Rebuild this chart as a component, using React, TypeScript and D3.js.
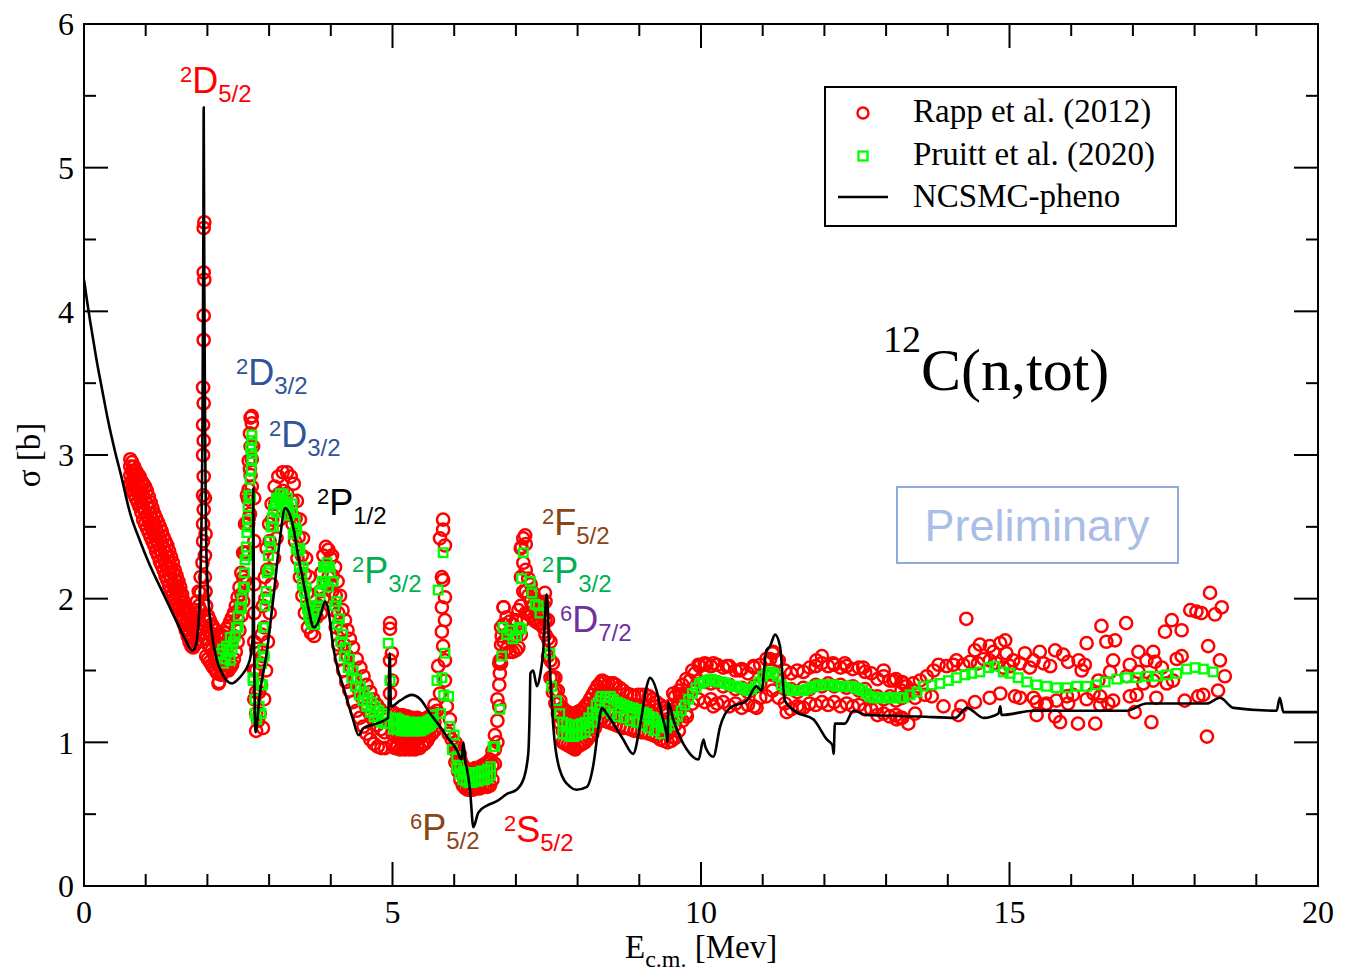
import * as d3 from "d3";

const W = 1345;
const H = 980;
const M = { left: 84, right: 1318, top: 24, bottom: 886 };

// Rapp et al. (2012), dense parts read as rows: [E, sigma, sigma, ...]
const rappRowsLow = [
  [0.75, 2.8, 2.86, 2.92, 2.97], [0.78, 2.76, 2.82, 2.89, 2.95], [0.81, 2.73, 2.79, 2.86, 2.92],
  [0.84, 2.7, 2.76, 2.83, 2.89], [0.87, 2.67, 2.74, 2.8, 2.87], [0.9, 2.64, 2.71, 2.78, 2.85],
  [0.93, 2.6, 2.67, 2.75, 2.82], [0.96, 2.55, 2.63, 2.72, 2.8], [0.99, 2.52, 2.61, 2.69, 2.78],
  [1.02, 2.49, 2.58, 2.66, 2.75], [1.05, 2.46, 2.54, 2.63, 2.71], [1.08, 2.43, 2.51, 2.59, 2.67],
  [1.11, 2.4, 2.48, 2.55, 2.63], [1.14, 2.37, 2.44, 2.52, 2.59], [1.17, 2.33, 2.41, 2.48, 2.56],
  [1.2, 2.3, 2.38, 2.45, 2.53], [1.23, 2.26, 2.34, 2.42, 2.5], [1.26, 2.23, 2.31, 2.39, 2.47],
  [1.29, 2.2, 2.28, 2.35, 2.43], [1.32, 2.16, 2.24, 2.32, 2.4], [1.35, 2.13, 2.21, 2.29, 2.37],
  [1.38, 2.09, 2.17, 2.25, 2.33], [1.41, 2.06, 2.14, 2.21, 2.29], [1.44, 2.03, 2.1, 2.18, 2.25],
  [1.47, 2.0, 2.07, 2.13, 2.2], [1.5, 1.96, 2.03, 2.09, 2.16], [1.53, 1.93, 2.0, 2.06, 2.12],
  [1.56, 1.89, 1.95, 2.02, 2.08], [1.59, 1.86, 1.92, 1.97, 2.03], [1.62, 1.82, 1.87, 1.93, 1.98],
  [1.65, 1.78, 1.83, 1.89, 1.94], [1.68, 1.74, 1.79, 1.85, 1.9], [1.71, 1.7, 1.76, 1.81, 1.87],
  [1.74, 1.67, 1.73, 1.8, 1.86], [1.77, 1.66, 1.73, 1.81, 1.88], [1.8, 1.68, 1.76, 1.84, 1.92],
  [1.83, 1.7, 1.79, 1.89, 1.98], [1.86, 1.75, 1.85, 1.95, 2.05], [1.89, 1.8, 1.92, 2.04, 2.15],
  [1.98, 1.6, 1.72, 1.84, 1.95], [2.01, 1.58, 1.68, 1.78, 1.88], [2.04, 1.56, 1.66, 1.76, 1.85],
  [2.07, 1.54, 1.64, 1.74, 1.82], [2.1, 1.52, 1.62, 1.72, 1.8], [2.13, 1.5, 1.6, 1.7, 1.78],
  [2.16, 1.48, 1.58, 1.68, 1.75], [2.19, 1.42, 1.55, 1.65, 1.74],
  [2.22, 1.47, 1.59, 1.72], [2.25, 1.48, 1.61, 1.74], [2.28, 1.5, 1.63, 1.76], [2.31, 1.51, 1.65, 1.79],
  [2.34, 1.5, 1.67, 1.81], [2.37, 1.52, 1.69, 1.84], [2.4, 1.54, 1.71, 1.87], [2.43, 1.58, 1.74, 1.9],
  [2.46, 1.63, 1.79, 1.95], [2.49, 1.7, 1.86, 2.01], [2.52, 1.78, 1.93, 2.08], [2.55, 1.88, 2.03, 2.18],
  [2.58, 1.98, 2.15, 2.32], [2.61, 2.12, 2.32, 2.52], [2.64, 2.32, 2.52, 2.72], [2.67, 2.56, 2.76, 2.96],
  [2.7, 2.86, 3.06, 3.26],
  [2.76, 1.3, 1.5, 1.7, 1.9, 2.1, 2.4, 2.7], [2.79, 1.08, 1.2, 1.35, 1.5, 1.65],
];

const rappRowsMid = [
  [5.0, 0.98, 1.06, 1.14, 1.21], [5.04, 0.96, 1.04, 1.12, 1.2], [5.08, 0.97, 1.05, 1.13, 1.19],
  [5.12, 0.95, 1.03, 1.11, 1.18], [5.16, 0.96, 1.04, 1.12, 1.19], [5.2, 0.95, 1.03, 1.1, 1.17],
  [5.24, 0.96, 1.04, 1.11, 1.18], [5.28, 0.95, 1.03, 1.1, 1.17], [5.32, 0.96, 1.04, 1.11, 1.17],
  [5.36, 0.95, 1.03, 1.1, 1.16], [5.4, 0.97, 1.04, 1.11, 1.17], [5.44, 0.96, 1.03, 1.1, 1.15],
  [5.48, 0.98, 1.05, 1.11, 1.16], [5.52, 0.99, 1.06, 1.12, 1.16], [5.56, 1.01, 1.07, 1.13, 1.17],
  [5.6, 1.04, 1.09, 1.14, 1.18], [5.64, 1.06, 1.11, 1.16, 1.2], [5.68, 1.08, 1.14, 1.2, 1.26],
  [6.02, 0.86, 0.94, 1.0], [6.06, 0.8, 0.87, 0.94], [6.1, 0.74, 0.81, 0.88], [6.14, 0.7, 0.77, 0.84],
  [6.18, 0.68, 0.75, 0.82], [6.22, 0.67, 0.74, 0.81], [6.26, 0.67, 0.74, 0.8], [6.3, 0.67, 0.74, 0.81],
  [6.34, 0.68, 0.75, 0.82], [6.38, 0.68, 0.75, 0.82], [6.42, 0.68, 0.75, 0.83], [6.46, 0.69, 0.76, 0.84],
  [6.5, 0.69, 0.77, 0.85], [6.54, 0.69, 0.77, 0.86], [6.58, 0.7, 0.79, 0.88], [6.62, 0.74, 0.84, 0.94],
  [6.66, 0.85, 0.95, 1.05], [6.7, 1.0, 1.15, 1.3], [6.73, 1.25, 1.4, 1.55], [6.76, 1.55, 1.68, 1.8],
  [6.8, 1.7, 1.82, 1.94], [6.85, 1.65, 1.75, 1.87], [6.9, 1.63, 1.73, 1.84], [6.95, 1.63, 1.72, 1.82],
  [7.0, 1.64, 1.74, 1.85], [7.04, 1.66, 1.78, 1.92], [7.08, 1.75, 1.95, 2.15, 2.35], [7.12, 1.85, 2.05, 2.25, 2.42],
  [7.16, 1.9, 2.05, 2.2, 2.38], [7.2, 1.9, 2.02, 2.14], [7.24, 1.88, 1.98, 2.1], [7.28, 1.86, 1.95, 2.04],
  [7.32, 1.84, 1.92, 2.0], [7.36, 1.83, 1.9, 1.98], [7.4, 1.82, 1.9, 1.97], [7.44, 1.8, 1.88, 1.96],
  [7.48, 1.75, 1.85, 1.98], [7.52, 1.6, 1.72, 1.85], [7.56, 1.45, 1.57, 1.7], [7.6, 1.35, 1.45, 1.55],
  [7.64, 1.27, 1.36, 1.45], [7.68, 1.2, 1.28, 1.36], [7.72, 1.13, 1.21, 1.29],
  [7.76, 1.0, 1.08, 1.16, 1.24], [7.8, 0.99, 1.07, 1.15, 1.22], [7.84, 0.98, 1.06, 1.14, 1.21],
  [7.88, 0.97, 1.05, 1.13, 1.2], [7.92, 0.96, 1.04, 1.12, 1.2], [7.96, 0.96, 1.04, 1.12, 1.2],
  [8.0, 0.97, 1.05, 1.13, 1.21], [8.04, 0.98, 1.06, 1.14, 1.22], [8.08, 0.99, 1.07, 1.15, 1.23],
  [8.12, 1.0, 1.08, 1.16, 1.25], [8.16, 1.02, 1.1, 1.18, 1.27], [8.2, 1.04, 1.12, 1.21, 1.3],
  [8.24, 1.06, 1.15, 1.24, 1.33], [8.28, 1.1, 1.19, 1.28, 1.36], [8.32, 1.14, 1.23, 1.32, 1.39],
  [8.36, 1.16, 1.25, 1.34, 1.41], [8.4, 1.17, 1.27, 1.36, 1.43],
  [8.44, 1.15, 1.24, 1.33, 1.42], [8.5, 1.14, 1.23, 1.32, 1.41], [8.56, 1.13, 1.22, 1.31, 1.41],
  [8.62, 1.12, 1.21, 1.3, 1.4], [8.68, 1.11, 1.2, 1.29, 1.38], [8.74, 1.1, 1.19, 1.28, 1.36],
  [8.8, 1.1, 1.18, 1.26, 1.34], [8.86, 1.09, 1.17, 1.25, 1.33], [8.92, 1.08, 1.16, 1.24, 1.32],
  [8.98, 1.08, 1.16, 1.24, 1.33], [9.04, 1.07, 1.15, 1.23, 1.33], [9.1, 1.07, 1.14, 1.22, 1.33],
  [9.16, 1.06, 1.13, 1.21, 1.32], [9.22, 1.05, 1.12, 1.2, 1.3], [9.28, 1.04, 1.11, 1.18, 1.28],
  [9.34, 1.02, 1.09, 1.16, 1.26], [9.4, 1.01, 1.07, 1.14, 1.24], [9.46, 1.0, 1.06, 1.13, 1.22],
  [9.52, 1.01, 1.08, 1.15, 1.26], [9.58, 1.03, 1.12, 1.21, 1.32], [9.64, 1.08, 1.18, 1.28, 1.36],
  [9.7, 1.15, 1.25, 1.34, 1.4],
];

const rappRowsHigh = [
  [9.76, 1.2, 1.32, 1.44], [9.86, 1.27, 1.37, 1.5], [9.96, 1.3, 1.43, 1.54], [10.06, 1.28, 1.42, 1.55],
  [10.16, 1.3, 1.41, 1.53], [10.26, 1.27, 1.42, 1.54], [10.36, 1.28, 1.39, 1.52], [10.46, 1.25, 1.4, 1.53],
  [10.56, 1.27, 1.37, 1.5], [10.66, 1.24, 1.38, 1.51], [10.76, 1.26, 1.35, 1.48], [10.86, 1.25, 1.39, 1.52],
  [10.96, 1.31, 1.41, 1.54], [11.06, 1.32, 1.47, 1.58], [11.16, 1.36, 1.47, 1.62], [11.26, 1.31, 1.45, 1.57],
  [11.36, 1.27, 1.37, 1.5], [11.46, 1.23, 1.37, 1.48], [11.56, 1.25, 1.35, 1.5], [11.66, 1.24, 1.38, 1.49],
  [11.76, 1.27, 1.37, 1.52], [11.86, 1.26, 1.4, 1.53], [11.96, 1.28, 1.39, 1.55], [12.06, 1.26, 1.41, 1.53],
  [12.16, 1.28, 1.39, 1.54], [12.26, 1.25, 1.4, 1.52], [12.36, 1.27, 1.38, 1.53], [12.46, 1.25, 1.39, 1.51],
  [12.56, 1.26, 1.36, 1.52], [12.66, 1.23, 1.37, 1.49], [12.76, 1.23, 1.32, 1.48], [12.86, 1.19, 1.32, 1.44],
  [12.96, 1.2, 1.3, 1.46], [13.06, 1.18, 1.32, 1.43], [13.16, 1.19, 1.29, 1.44], [13.26, 1.17, 1.31, 1.42],
];

// Rapp et al. (2012), single points [E, sigma]
const rappPts = [
  [1.92, 2.25], [1.93, 2.4], [1.93, 2.52], [1.94, 2.62], [1.93, 2.72], [1.94, 2.85], [1.93, 3.0], [1.94, 3.1],
  [1.93, 3.21], [1.94, 3.36], [1.93, 3.47], [1.94, 3.8], [1.94, 3.97], [1.95, 4.22], [1.94, 4.27], [1.94, 4.58],
  [1.95, 4.62], [1.96, 2.3], [1.96, 2.15], [1.97, 2.05], [1.96, 2.7], [1.97, 2.45], [2.18, 1.41],
  [2.66, 2.52], [2.69, 2.59], [2.66, 2.69], [2.72, 2.78], [2.69, 2.9], [2.72, 2.97], [2.74, 3.06], [2.69, 3.15],
  [2.72, 3.22], [2.72, 3.27],
  // rising flank and broad peak
  [2.82, 1.15], [2.84, 1.35], [2.86, 1.55], [2.88, 1.75], [2.9, 1.95], [2.93, 2.15], [2.96, 2.35], [3.0, 2.52],
  [3.04, 2.66], [3.09, 2.78], [3.15, 2.85], [3.22, 2.88], [3.29, 2.88], [3.35, 2.85],
  [2.9, 1.1], [2.92, 1.3], [2.95, 1.5], [2.98, 1.7], [3.01, 1.9], [3.04, 2.1], [3.08, 2.28], [3.12, 2.42],
  [3.17, 2.55], [3.23, 2.62], [3.3, 2.62], [3.36, 2.58],
  [2.85, 1.2], [2.87, 1.4], [2.89, 1.6], [2.92, 1.8], [2.94, 2.0], [2.97, 2.2], [3.01, 2.4], [3.05, 2.55],
  [3.1, 2.66], [3.16, 2.73], [3.22, 2.75], [3.29, 2.73],
  [3.4, 2.8], [3.45, 2.68], [3.5, 2.55], [3.55, 2.42], [3.6, 2.28], [3.65, 2.15], [3.7, 2.02], [3.75, 1.92],
  [3.8, 1.95], [3.38, 2.52], [3.42, 2.4], [3.46, 2.28], [3.5, 2.15], [3.54, 2.02], [3.58, 1.9], [3.63, 1.8],
  [3.68, 1.76], [3.73, 1.74], [3.38, 2.68], [3.43, 2.56], [3.48, 2.43], [3.53, 2.3], [3.58, 2.17], [3.62, 2.04],
  [3.67, 1.93], [3.72, 1.86], [3.77, 1.87],
  [3.82, 2.05], [3.85, 2.18], [3.88, 2.3], [3.92, 2.36], [3.96, 2.34], [4.0, 2.28], [3.84, 1.9], [3.88, 2.0],
  [3.92, 2.1], [3.96, 2.15], [4.0, 2.1],
  // fall towards 5 MeV
  [4.02, 2.3], [4.07, 2.22], [4.11, 2.12], [4.15, 2.02], [4.19, 1.92], [4.23, 1.85], [4.27, 1.78], [4.31, 1.72],
  [4.36, 1.66], [4.42, 1.58], [4.48, 1.52], [4.53, 1.46], [4.58, 1.4], [4.64, 1.35], [4.69, 1.3], [4.75, 1.26],
  [4.8, 1.23], [4.86, 1.2], [4.91, 1.18],
  [4.02, 2.05], [4.05, 1.92], [4.08, 1.8], [4.12, 1.68], [4.16, 1.58], [4.2, 1.5], [4.25, 1.42], [4.3, 1.36],
  [4.36, 1.28], [4.42, 1.22], [4.47, 1.17], [4.53, 1.11], [4.58, 1.06], [4.64, 1.02], [4.7, 0.99], [4.76, 0.97],
  [4.82, 0.96], [4.88, 0.96],
  [4.03, 2.16], [4.08, 2.02], [4.12, 1.9], [4.17, 1.78], [4.22, 1.68], [4.27, 1.6], [4.33, 1.52], [4.39, 1.44],
  [4.45, 1.37], [4.51, 1.31], [4.57, 1.25], [4.63, 1.2], [4.69, 1.16], [4.75, 1.12], [4.81, 1.09], [4.87, 1.07],
  [4.96, 1.83], [4.96, 1.79], [4.99, 1.62], [4.96, 1.57], [4.99, 1.43], [4.96, 1.34],
  // resonance near 5.8 MeV
  [5.82, 2.55], [5.82, 2.48], [5.77, 2.42], [5.85, 2.37], [5.8, 2.15], [5.82, 2.13], [5.85, 2.01], [5.8, 1.94],
  [5.85, 1.85], [5.8, 1.77], [5.82, 1.67], [5.85, 1.57], [5.74, 1.53], [5.85, 1.43], [5.77, 1.34], [5.72, 1.22],
  [5.88, 1.25], [5.93, 1.16], [5.91, 1.06], [5.96, 1.02], [6.01, 0.97], [6.09, 0.92], [6.12, 0.85],
  [6.74, 1.48], [6.74, 1.57], [6.77, 1.74], [6.8, 1.94], [7.09, 2.36], [7.15, 2.44], [7.47, 2.04],
  [8.2, 1.06], [7.96, 0.95], [7.98, 1.06], [9.55, 1.04], [9.61, 1.25], [9.55, 1.34], [8.58, 1.41], [8.47, 1.39],
  // 9.6 - 13.5 MeV
  [9.66, 1.33], [9.82, 1.43], [9.9, 1.48], [9.98, 1.53], [10.09, 1.54], [10.2, 1.55], [10.42, 1.53], [10.63, 1.5],
  [10.85, 1.53], [11.12, 1.58], [11.17, 1.63], [11.23, 1.57], [11.87, 1.57], [11.96, 1.6], [12.14, 1.55],
  [12.33, 1.55], [12.63, 1.52], [12.96, 1.5], [13.12, 1.43], [13.28, 1.41], [13.44, 1.41], [10.2, 1.25],
  [10.9, 1.24], [11.39, 1.21], [11.6, 1.24], [12.85, 1.24], [13.17, 1.16], [13.36, 1.13], [13.47, 1.2],
  [9.77, 1.18], [13.44, 1.36], [13.23, 1.17],
  // scattered part above 13.5 MeV
  [14.3, 1.86], [18.25, 2.04], [18.44, 1.94], [17.93, 1.92], [18.03, 1.91], [18.11, 1.9], [18.33, 1.89], [17.63, 1.85],
  [17.52, 1.77], [17.79, 1.78], [16.49, 1.81], [16.89, 1.83], [16.57, 1.7], [16.71, 1.71], [16.25, 1.69], [14.93, 1.71],
  [14.85, 1.69], [14.52, 1.68], [14.44, 1.64], [14.68, 1.67], [14.74, 1.63], [14.95, 1.62], [15.25, 1.62], [15.49, 1.63],
  [15.74, 1.64], [15.87, 1.61], [16.12, 1.57], [16.22, 1.54], [16.17, 1.5], [15.95, 1.56], [15.55, 1.55], [15.66, 1.53],
  [15.39, 1.57], [15.33, 1.52], [15.17, 1.55], [15.06, 1.57], [15.01, 1.53], [14.9, 1.52], [14.79, 1.55], [14.68, 1.57],
  [14.58, 1.58], [14.49, 1.55], [14.36, 1.56], [14.25, 1.54], [14.14, 1.57], [14.09, 1.54], [13.98, 1.53], [13.85, 1.54],
  [13.77, 1.5], [13.66, 1.46], [13.55, 1.43], [13.33, 1.39], [13.25, 1.36], [13.36, 1.34], [13.47, 1.31],
  [13.63, 1.33], [13.74, 1.32], [13.93, 1.25], [14.22, 1.25], [14.17, 1.19], [14.44, 1.28], [14.68, 1.31], [14.85, 1.34],
  [15.09, 1.32], [15.17, 1.31], [15.39, 1.31], [15.44, 1.28], [15.6, 1.27], [15.76, 1.29], [15.93, 1.32], [15.95, 1.27],
  [16.03, 1.33], [16.36, 1.34], [16.47, 1.26], [16.6, 1.27], [16.68, 1.29], [16.95, 1.32], [17.06, 1.33], [17.38, 1.31],
  [17.17, 1.41], [17.33, 1.43], [17.55, 1.41], [17.65, 1.43], [17.79, 1.6], [17.71, 1.58], [18.22, 1.67], [18.41, 1.57],
  [18.49, 1.46], [18.38, 1.36], [18.14, 1.33], [18.06, 1.32], [17.84, 1.29], [18.2, 1.04], [17.3, 1.14], [17.03, 1.21],
  [16.39, 1.13], [16.11, 1.13], [15.82, 1.14], [15.74, 1.18], [15.44, 1.19], [15.58, 1.26],
  [16.95, 1.54], [17.09, 1.63], [17.33, 1.63], [17.22, 1.57], [17.36, 1.56], [17.47, 1.52], [17.09, 1.49], [16.9, 1.46],
  [16.68, 1.57], [16.63, 1.49], [16.44, 1.43], [16.47, 1.32], [16.25, 1.3],
];

// Pruitt et al. (2020), rows [E, sigma, ...]
const pruittRows = [
  [5.02, 1.09, 1.16], [5.06, 1.1, 1.17], [5.1, 1.09, 1.16], [5.14, 1.08, 1.15], [5.18, 1.08, 1.15],
  [5.22, 1.08, 1.14], [5.26, 1.08, 1.14], [5.3, 1.08, 1.14], [5.34, 1.08, 1.14], [5.38, 1.08, 1.14],
  [5.42, 1.08, 1.13], [5.46, 1.08, 1.13], [5.5, 1.09, 1.14], [5.54, 1.1, 1.14], [5.58, 1.11, 1.15],
  [5.62, 1.12, 1.16], [5.66, 1.14, 1.19],
  [6.04, 0.82, 0.9], [6.09, 0.78, 0.84], [6.14, 0.74, 0.8], [6.19, 0.73, 0.79], [6.24, 0.72, 0.78],
  [6.29, 0.72, 0.78], [6.34, 0.73, 0.79], [6.39, 0.73, 0.79], [6.44, 0.74, 0.8], [6.49, 0.74, 0.8],
  [6.54, 0.75, 0.81], [6.59, 0.77, 0.83],
  [7.76, 1.06, 1.14], [7.82, 1.05, 1.13], [7.88, 1.04, 1.12], [7.94, 1.04, 1.12], [8.0, 1.05, 1.12],
  [8.06, 1.06, 1.13], [8.12, 1.07, 1.14], [8.18, 1.1, 1.17], [8.24, 1.14, 1.21], [8.3, 1.19, 1.26],
  [8.36, 1.23, 1.29],
];

const pruittPts = [
  [2.2, 1.62], [2.26, 1.55], [2.31, 1.67], [2.37, 1.57], [2.37, 1.73], [2.42, 1.7], [2.47, 1.8], [2.5, 1.88],
  [2.53, 1.94], [2.56, 2.0], [2.58, 2.08], [2.6, 2.18], [2.61, 2.27], [2.63, 2.36], [2.64, 2.46], [2.65, 2.55],
  [2.66, 2.64], [2.67, 2.72], [2.69, 2.83], [2.72, 2.97], [2.72, 3.01], [2.72, 3.1], [2.72, 3.14],
  [2.25, 1.65], [2.3, 1.58], [2.35, 1.64], [2.4, 1.65], [2.45, 1.74], [2.5, 1.8], [2.55, 1.93], [2.6, 2.08],
  [2.64, 2.3], [2.67, 2.5], [2.7, 2.7], [2.71, 2.9], [2.7, 3.05],
  [2.74, 1.45], [2.74, 1.43], [2.77, 1.2], [2.8, 1.16], [2.77, 1.3],
  [2.84, 1.25], [2.88, 1.55], [2.91, 1.8], [2.95, 2.05], [2.99, 2.3], [3.03, 2.5], [3.07, 2.62], [3.12, 2.7],
  [3.18, 2.73], [3.23, 2.73], [3.3, 2.7], [3.37, 2.66], [3.42, 2.55], [3.45, 2.48], [3.5, 2.35], [3.55, 2.22],
  [3.6, 2.08], [3.66, 1.95], [3.72, 1.9], [3.77, 1.92], [3.82, 2.05], [3.88, 2.22], [3.93, 2.22], [3.99, 2.18],
  [2.86, 1.4], [2.9, 1.65], [2.93, 1.95], [2.97, 2.18], [3.01, 2.4], [3.05, 2.56], [3.1, 2.66], [3.15, 2.7],
  [3.21, 2.68], [3.27, 2.65], [3.33, 2.58], [3.39, 2.45], [3.44, 2.35], [3.49, 2.22], [3.54, 2.1], [3.59, 1.98],
  [3.64, 1.88], [3.69, 1.82], [3.74, 1.82], [3.8, 1.95], [3.86, 2.1], [3.91, 2.12], [3.96, 2.08],
  [2.87, 1.2], [2.89, 1.4], [2.92, 1.6], [2.94, 1.8], [2.97, 2.0], [3.0, 2.2], [3.03, 2.36], [3.07, 2.5],
  [3.12, 2.6], [3.18, 2.66], [3.25, 2.66], [3.31, 2.63], [3.38, 2.6], [3.43, 2.47], [3.48, 2.33], [3.53, 2.18],
  [3.57, 2.05], [3.62, 1.93], [3.67, 1.85], [3.83, 2.0], [3.86, 2.12], [3.9, 2.22], [3.94, 2.25], [3.98, 2.22],
  [4.04, 2.12], [4.09, 1.98], [4.14, 1.86], [4.19, 1.75], [4.24, 1.66], [4.3, 1.58], [4.36, 1.5], [4.42, 1.44],
  [4.48, 1.39], [4.54, 1.35], [4.6, 1.31], [4.66, 1.28], [4.72, 1.25], [4.78, 1.22], [4.84, 1.2], [4.9, 1.18],
  [4.06, 1.95], [4.11, 1.82], [4.16, 1.7], [4.22, 1.6], [4.28, 1.52], [4.34, 1.45], [4.4, 1.39], [4.46, 1.33],
  [4.52, 1.29], [4.58, 1.25], [4.64, 1.21], [4.7, 1.18], [4.76, 1.15], [4.82, 1.14], [4.88, 1.13],
  [4.93, 1.69], [4.96, 1.43],
  [5.72, 1.43], [5.74, 2.06], [5.82, 2.32], [5.85, 1.62], [5.91, 1.32], [5.93, 1.11], [5.8, 1.45], [5.83, 1.33],
  [5.78, 1.2], [6.0, 1.05], [5.97, 0.95],
  [6.63, 0.97], [6.66, 0.97], [6.74, 1.23], [6.77, 1.6], [6.79, 1.8], [6.85, 1.75], [6.9, 1.78], [6.95, 1.72],
  [7.01, 1.74], [7.05, 1.8], [7.09, 1.79], [7.09, 2.14], [7.12, 2.32], [7.23, 2.12], [7.26, 2.04], [7.31, 1.96],
  [7.39, 1.9], [7.36, 1.95], [7.55, 1.62], [7.58, 1.39], [7.66, 1.29], [7.71, 1.2],
  [8.39, 1.32], [8.45, 1.31], [8.53, 1.32], [8.58, 1.3], [8.64, 1.28], [8.69, 1.27], [8.75, 1.26], [8.8, 1.25],
  [8.85, 1.24], [8.9, 1.24], [8.96, 1.23], [9.01, 1.21], [9.07, 1.21], [9.12, 1.2], [9.17, 1.18], [9.23, 1.17],
  [9.28, 1.15], [9.31, 1.14], [9.36, 1.12], [9.4, 1.11], [8.45, 1.22], [8.55, 1.2], [8.65, 1.18], [8.75, 1.17],
  [8.85, 1.15], [8.95, 1.14], [9.05, 1.12], [9.15, 1.1], [9.25, 1.08], [9.35, 1.06],
  [9.44, 1.1], [9.5, 1.12], [9.56, 1.15], [9.62, 1.18], [9.68, 1.22], [9.74, 1.26], [9.8, 1.3], [9.86, 1.34],
  [9.92, 1.38], [9.98, 1.41], [10.04, 1.42], [10.1, 1.43], [10.16, 1.44], [10.22, 1.43], [10.28, 1.42], [10.34, 1.42],
  [10.4, 1.41], [10.46, 1.4], [10.52, 1.39], [10.58, 1.39], [10.64, 1.38], [10.7, 1.37], [10.76, 1.36], [10.82, 1.37],
  [10.88, 1.39], [10.94, 1.42], [11.0, 1.46], [11.06, 1.48], [11.12, 1.49], [11.18, 1.48], [11.24, 1.46], [11.3, 1.4],
  [11.36, 1.38], [11.42, 1.37], [11.48, 1.36], [11.54, 1.36], [11.6, 1.36], [11.66, 1.36], [11.72, 1.37], [11.78, 1.38],
  [11.84, 1.39], [11.9, 1.4], [11.96, 1.4], [12.02, 1.4], [12.08, 1.4], [12.14, 1.4], [12.2, 1.39], [12.26, 1.39],
  [12.32, 1.39], [12.38, 1.39], [12.44, 1.39], [12.5, 1.38], [12.56, 1.37], [12.62, 1.36], [12.68, 1.34], [12.74, 1.32],
  [12.8, 1.31], [12.86, 1.31], [12.92, 1.31], [12.98, 1.31], [13.04, 1.31], [13.1, 1.31], [13.16, 1.31], [13.22, 1.31],
  [13.28, 1.31],
  [13.39, 1.33], [13.5, 1.35], [13.6, 1.39], [13.74, 1.4], [13.87, 1.41], [14.01, 1.43], [14.14, 1.45], [14.28, 1.47],
  [14.39, 1.48], [14.52, 1.49], [14.66, 1.52], [14.76, 1.53], [14.9, 1.49], [15.01, 1.48], [15.14, 1.45], [15.28, 1.42],
  [15.44, 1.4], [15.6, 1.39], [15.76, 1.38], [15.93, 1.38], [16.09, 1.39], [16.25, 1.39], [16.41, 1.4], [16.55, 1.42],
  [16.74, 1.44], [16.9, 1.45], [17.06, 1.45], [17.22, 1.46], [17.39, 1.46], [17.55, 1.47], [17.71, 1.48], [17.87, 1.51],
  [18.01, 1.52], [18.14, 1.51], [18.3, 1.49],
];

// NCSMC-pheno curve
const ncsmc = [
  [0, 4.22], [0.05, 4.07], [0.1, 3.93], [0.2, 3.67], [0.3, 3.44], [0.39, 3.24], [0.5, 3.03], [0.6, 2.86],
  [0.75, 2.59], [0.9, 2.41], [1.05, 2.25], [1.28, 2.04], [1.5, 1.84], [1.65, 1.71], [1.75, 1.64], [1.8, 1.66],
  [1.85, 1.8], [1.89, 2.2], [1.92, 3.2], [1.935, 4.6], [1.94, 5.42], [1.95, 4.2], [1.965, 3.0], [1.98, 2.4],
  [2.01, 2.05], [2.06, 1.8], [2.15, 1.58], [2.25, 1.47], [2.4, 1.41], [2.5, 1.44], [2.58, 1.48], [2.65, 1.53],
  [2.7, 1.6], [2.735, 1.75], [2.745, 2.77], [2.755, 1.8], [2.78, 1.07], [2.85, 1.34], [2.96, 1.62], [3.07, 2.01],
  [3.18, 2.43], [3.26, 2.63], [3.32, 2.6], [3.39, 2.5], [3.47, 2.3], [3.55, 2.13], [3.64, 1.93], [3.72, 1.8],
  [3.78, 1.82], [3.83, 1.88], [3.91, 1.98], [3.96, 1.92], [4.04, 1.66], [4.12, 1.5], [4.2, 1.39], [4.36, 1.16],
  [4.45, 1.05], [4.53, 1.1], [4.74, 1.13], [4.93, 1.17], [4.955, 1.62], [4.975, 1.25], [5.12, 1.29], [5.31, 1.33],
  [5.45, 1.3], [5.61, 1.2], [5.77, 1.11], [5.88, 1.04], [6.04, 0.95], [6.12, 0.88], [6.15, 1.0], [6.18, 0.86],
  [6.2, 0.83], [6.26, 0.65], [6.31, 0.41], [6.39, 0.51], [6.53, 0.56], [6.69, 0.59], [6.85, 0.64], [7.01, 0.67],
  [7.12, 0.74], [7.2, 0.92], [7.225, 1.25], [7.235, 1.48], [7.28, 1.5], [7.34, 1.39], [7.39, 1.46], [7.44, 1.62],
  [7.5, 2.03], [7.55, 1.53], [7.61, 1.09], [7.71, 0.81], [7.88, 0.69], [7.98, 0.67], [8.15, 0.69], [8.25, 0.83],
  [8.34, 1.11], [8.39, 1.24], [8.47, 1.2], [8.58, 1.13], [8.74, 1.02], [8.9, 0.92], [9.01, 1.11], [9.12, 1.39],
  [9.17, 1.45], [9.28, 1.36], [9.36, 1.2], [9.44, 1.06], [9.46, 1.0], [9.47, 1.28], [9.55, 1.16], [9.77, 0.95],
  [9.96, 0.88], [10.04, 1.02], [10.07, 0.97], [10.09, 0.95], [10.2, 0.9], [10.31, 1.11], [10.47, 1.24], [10.74, 1.29],
  [10.9, 1.39], [10.98, 1.36], [11.06, 1.64], [11.12, 1.67], [11.2, 1.75], [11.28, 1.67], [11.36, 1.29], [11.55, 1.21],
  [11.82, 1.16], [12.04, 1.02], [12.13, 0.98], [12.15, 0.92], [12.17, 1.13], [12.33, 1.13], [12.47, 1.22], [12.69, 1.19],
  [13.55, 1.18], [14.12, 1.17], [14.31, 1.24], [14.58, 1.17], [14.82, 1.2], [14.85, 1.25], [14.87, 1.19], [15.39, 1.22],
  [16.9, 1.22], [17.22, 1.27], [18.2, 1.27], [18.41, 1.31], [18.63, 1.24], [19.33, 1.22], [19.38, 1.31], [19.44, 1.21],
  [20, 1.21],
];

const xMajor = [0, 5, 10, 15, 20];
const yMajor = [0, 1, 2, 3, 4, 5, 6];

const legendItems = ["Rapp et al. (2012)", "Pruitt et al. (2020)", "NCSMC-pheno"];

const states = [
  { sup: "2", main: "D", sub: "5/2", x: 180, y: 93, color: "#ff0000" },
  { sup: "2", main: "D", sub: "3/2", x: 236, y: 385, color: "#2f5597" },
  { sup: "2", main: "D", sub: "3/2", x: 269, y: 447, color: "#2f5597" },
  { sup: "2", main: "P", sub: "1/2", x: 317, y: 515, color: "#000000" },
  { sup: "2", main: "P", sub: "3/2", x: 352, y: 583, color: "#00b050" },
  { sup: "6", main: "P", sub: "5/2", x: 410, y: 840, color: "#8a4516" },
  { sup: "2", main: "S", sub: "5/2", x: 504, y: 842, color: "#ff0000" },
  { sup: "2", main: "F", sub: "5/2", x: 542, y: 535, color: "#8a4516" },
  { sup: "2", main: "P", sub: "3/2", x: 542, y: 583, color: "#00b050" },
  { sup: "6", main: "D", sub: "7/2", x: 560, y: 632, color: "#7030a0" },
];

const SERIF = "'Liberation Serif', 'Times New Roman', serif";
const SANS = "'Liberation Sans', Arial, sans-serif";

const flatRows = (rows: number[][]) => rows.flatMap(([e, ...s]) => s.map((v) => [e, v]));

export default function App() {
  const x = d3.scaleLinear().domain([0, 20]).range([M.left, M.right]);
  const y = d3.scaleLinear().domain([0, 6]).range([M.bottom, M.top]);
  const line = d3
    .line<number[]>()
    .x((d) => x(d[0]))
    .y((d) => y(d[1]))
    .curve(d3.curveMonotoneX);

  const rapp = [
    ...flatRows(rappRowsLow),
    ...flatRows(rappRowsMid),
    ...flatRows(rappRowsHigh),
    ...rappPts,
  ];
  const pruitt = [...flatRows(pruittRows), ...pruittPts];
  const xMinor = x.ticks(20);
  const yMinor = y.ticks(12);
  const sq = 8.6;
  const rr = 6.1;

  return (
    <svg
      width={W}
      height={H}
      style={{ position: "absolute", left: 0, top: 0, background: "#fff" }}
    >
      <defs>
        <clipPath id="plot">
          <rect x={M.left} y={M.top} width={M.right - M.left} height={M.bottom - M.top} />
        </clipPath>
      </defs>

      {/* ticks, inward on all four sides */}
      <g stroke="#000" strokeWidth={2}>
        {xMinor.map((t) => {
          const len = xMajor.includes(t) ? 24 : 12;
          return (
            <g key={"xt" + t}>
              <line x1={x(t)} x2={x(t)} y1={M.bottom} y2={M.bottom - len} />
              <line x1={x(t)} x2={x(t)} y1={M.top} y2={M.top + len} />
            </g>
          );
        })}
        {yMinor.map((t) => {
          const len = yMajor.includes(t) ? 24 : 12;
          return (
            <g key={"yt" + t}>
              <line x1={M.left} x2={M.left + len} y1={y(t)} y2={y(t)} />
              <line x1={M.right} x2={M.right - len} y1={y(t)} y2={y(t)} />
            </g>
          );
        })}
      </g>

      <g clipPath="url(#plot)">
        {rapp.map((d, i) => (
          <circle key={"r" + i} cx={x(d[0])} cy={y(d[1])} r={rr} fill="none" stroke="#ff0000" strokeWidth={2.5} />
        ))}
        {pruitt.map((d, i) => (
          <rect
            key={"p" + i}
            x={x(d[0]) - sq / 2}
            y={y(d[1]) - sq / 2}
            width={sq}
            height={sq}
            fill="none"
            stroke="#00ff00"
            strokeWidth={2.3}
          />
        ))}
        <path d={line(ncsmc) ?? ""} fill="none" stroke="#000" strokeWidth={2.6} strokeLinejoin="round" />
      </g>

      <rect
        x={M.left}
        y={M.top}
        width={M.right - M.left}
        height={M.bottom - M.top}
        fill="none"
        stroke="#000"
        strokeWidth={2}
      />

      {/* tick labels */}
      <g fontFamily={SERIF} fontSize={32} fill="#000">
        {yMajor.map((t) => (
          <text key={"yl" + t} x={74} y={y(t)} dy="0.35em" textAnchor="end">
            {t}
          </text>
        ))}
        {xMajor.map((t) => (
          <text key={"xl" + t} x={x(t)} y={923} textAnchor="middle">
            {t}
          </text>
        ))}
      </g>

      {/* axis titles */}
      <text fontFamily={SERIF} fontSize={33} transform="translate(40,455) rotate(-90)" textAnchor="middle">
        σ [b]
      </text>
      <text fontFamily={SERIF} fontSize={33} x={625} y={958}>
        E
        <tspan fontSize={24} dy={9}>c.m.</tspan>
        <tspan dy={-9}> [Mev]</tspan>
      </text>

      {/* state labels */}
      {states.map((s, i) => (
        <text key={"s" + i} x={s.x} y={s.y} fill={s.color} fontFamily={SANS}>
          <tspan fontSize={22} dy={-11}>{s.sup}</tspan>
          <tspan fontSize={36} dy={11}>{s.main}</tspan>
          <tspan fontSize={24} dy={9}>{s.sub}</tspan>
        </text>
      ))}

      {/* reaction title */}
      <text fontFamily={SERIF} x={883} y={390} fill="#000">
        <tspan fontSize={38} dy={-38}>12</tspan>
        <tspan fontSize={60} dy={38}>C(n,tot)</tspan>
      </text>

      {/* preliminary stamp */}
      <rect x={897} y={487} width={281} height={76} fill="none" stroke="#8faadc" strokeWidth={2} />
      <text x={1037} y={541} textAnchor="middle" fontFamily={SANS} fontSize={45} fill="#a9bde6">
        Preliminary
      </text>

      {/* legend */}
      <rect x={825} y={87} width={351} height={139} fill="#fff" stroke="#000" strokeWidth={2} />
      <circle cx={863} cy={113} r={5.5} fill="none" stroke="#ff0000" strokeWidth={2.4} />
      <rect x={863 - 4.5} y={156 - 4.5} width={9} height={9} fill="none" stroke="#00ff00" strokeWidth={2.3} />
      <line x1={838} x2={888} y1={197} y2={197} stroke="#000" strokeWidth={2.6} />
      {legendItems.map((t, i) => (
        <text key={t} x={913} y={122 + i * 42.5} fontFamily={SERIF} fontSize={33}>
          {t}
        </text>
      ))}
    </svg>
  );
}
